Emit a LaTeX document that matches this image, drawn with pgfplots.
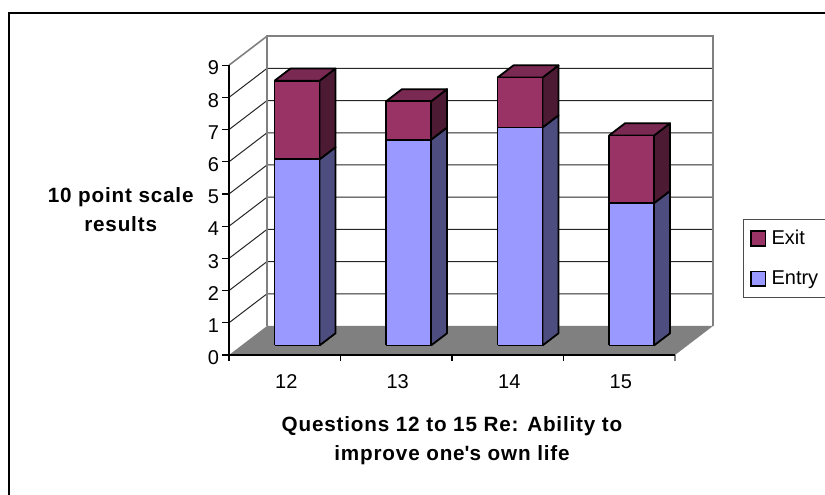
\documentclass[border=0pt]{standalone}
\usepackage{fontspec}
\setmainfont{Liberation Sans}
\usepackage{pgfplots}
\pgfplotsset{compat=1.18}

\definecolor{entry}{HTML}{9999FF}
\definecolor{entryside}{HTML}{4D4D80}
\definecolor{exit}{HTML}{993366}
\definecolor{exitside}{HTML}{4D1A33}
\definecolor{exittop}{HTML}{7A2952}
\definecolor{floorgray}{HTML}{808080}

\pgfplotsset{barface/.style={forget plot,draw=black,line width=1.35pt,line join=round,mark=none},
  wall/.style={forget plot,draw=floorgray,line width=1.2pt,mark=none},
  gridline/.style={forget plot,draw=black!85,line width=0.75pt,mark=none}}

% x0, x1, entry, entry+exit
\newcommand{\stackbar}[4]{%
  \addplot3[barface,fill=entryside] coordinates {(#2,0.33,0)(#2,0.75,0)(#2,0.75,#3)(#2,0.33,#3)(#2,0.33,0)};
  \addplot3[barface,fill=exitside] coordinates {(#2,0.33,#3)(#2,0.75,#3)(#2,0.75,#4)(#2,0.33,#4)(#2,0.33,#3)};
  \addplot3[barface,fill=exittop] coordinates {(#1,0.33,#4)(#1,0.75,#4)(#2,0.75,#4)(#2,0.33,#4)(#1,0.33,#4)};
  \addplot3[barface,fill=entry] coordinates {(#1,0.33,0)(#2,0.33,0)(#2,0.33,#3)(#1,0.33,#3)(#1,0.33,0)};
  \addplot3[barface,fill=exit] coordinates {(#1,0.33,#3)(#2,0.33,#3)(#2,0.33,#4)(#1,0.33,#4)(#1,0.33,#3)};
}

\begin{document}
\begin{tikzpicture}
\path[use as bounding box] (0,0) rectangle (618.75pt,371.25pt);
% outer frame, right and bottom fall outside the picture
\draw[black,line width=1.5pt] (7pt,-5pt) -- (7pt,361.5pt) -- (630pt,361.5pt);
\begin{axis}[
  at={(171.75pt,105pt)},anchor=origin,
  x={(83.625pt,0pt)},y={(28.5pt,21.75pt)},z={(0pt,24.15pt)},
  xmin=0,xmax=4,ymin=0,ymax=1,zmin=0,zmax=9,
  axis lines*=left,
  axis line style={draw=none},
  major tick length=0pt,
  xtick={0.5,1.5,2.5,3.5},
  xticklabels={12,13,14,15},
  ytick=\empty,
  ztick={0,1,...,9},
  tick label style={font=\fontsize{15}{17}\selectfont},
  xticklabel style={xshift=5.5pt,yshift=-11pt},
  zticklabel style={xshift=-4pt,yshift=0.5pt},
  /pgf/number format/assume math mode=true,
  clip=false,
  legend style={at={(axis description cs:1.062,0.426)},anchor=north west,
    draw=black!70,line width=0.6pt,inner xsep=5pt,inner ysep=6pt,
    font=\fontsize{15}{17}\selectfont,row sep=14pt,cells={anchor=west}},
  legend image code/.code={\draw[draw=black,line width=1.1pt,fill=#1] (0pt,-5.5pt) rectangle (11pt,5.5pt);},
]
\addlegendimage{exit}
\addlegendentry{\hspace{2pt}Exit\hspace{60pt}}
\addlegendimage{entry}
\addlegendentry{\hspace{2pt}Entry\hspace{60pt}}

% floor
\addplot3[forget plot,fill=floorgray,draw=none,mark=none] coordinates {(0,0,0)(4,0,0)(4,1,0)(0,1,0)(0,0,0)};
% grid on the two walls
\pgfplotsinvokeforeach{1,...,8}{
  \addplot3[gridline] coordinates {(0,0,#1)(0,1,#1)(4,1,#1)};
}
% wall edges
\addplot3[wall] coordinates {(0,1,0)(0,1,9)(4,1,9)(4,1,0)};
\addplot3[wall] coordinates {(0,0,9)(0,1,9)};
\addplot3[wall] coordinates {(4,0,0)(4,0,-0.19)};
% axes and tick marks
\addplot3[forget plot,draw=black,line width=0.8pt,mark=none] coordinates {(0,0,-0.19)(0,0,9)};
\addplot3[forget plot,draw=black,line width=0.8pt,mark=none] coordinates {(0,0,0)(4,0,0)};
\pgfplotsinvokeforeach{0,...,8}{
  \addplot3[forget plot,draw=black,line width=0.8pt,mark=none] coordinates {(0,0,#1)(-0.063,0,#1)};
}
\addplot3[forget plot,draw=black,line width=0.8pt,mark=none] coordinates {(0,0,9)(-0.063,0,9)};
\pgfplotsinvokeforeach{1,2,3}{
  \addplot3[forget plot,draw=black,line width=0.8pt,mark=none] coordinates {(#1,0,0)(#1,0,-0.19)};
}

% question 12 to 15
\stackbar{0.296}{0.700}{5.78}{8.22}
\stackbar{1.296}{1.700}{6.39}{7.58}
\stackbar{2.296}{2.700}{6.77}{8.32}
\stackbar{3.296}{3.700}{4.42}{6.52}
\end{axis}
\node[font=\bfseries\fontsize{15.5}{22}\selectfont\addfontfeatures{LetterSpace=4},align=center] at (90.5pt,214pt) {10 point scale\\results};
\node[font=\bfseries\fontsize{15.5}{22}\selectfont\addfontfeatures{LetterSpace=4},align=center] at (339pt,41pt) {Questions 12 to 15 Re: Ability to\\improve one\textquotesingle s own life};
\end{tikzpicture}
\end{document}
